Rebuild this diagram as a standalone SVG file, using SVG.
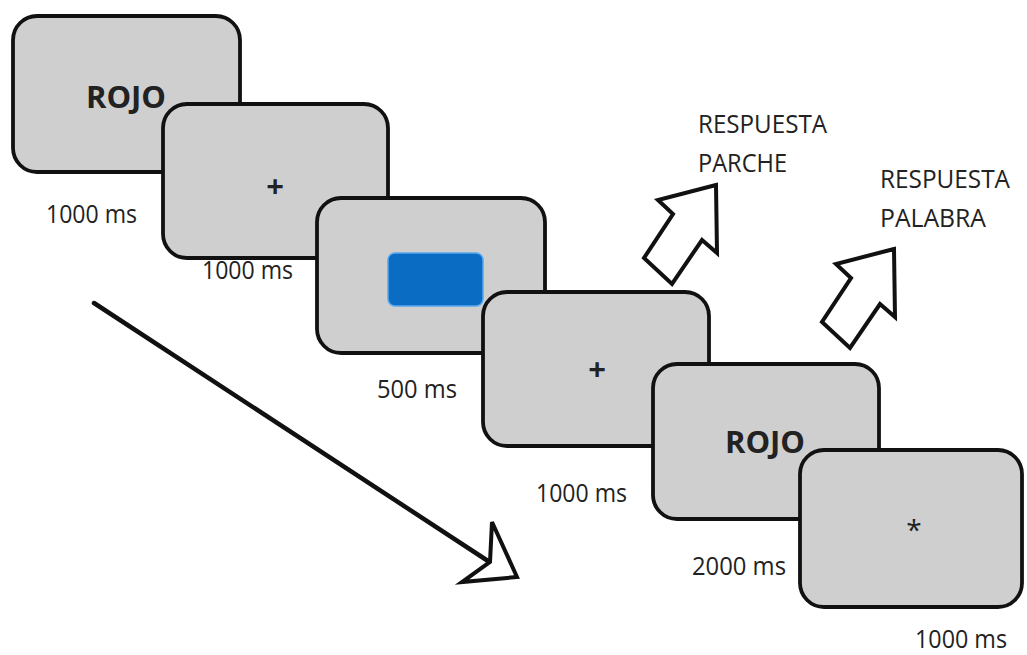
<svg xmlns="http://www.w3.org/2000/svg" width="1027" height="655" viewBox="0 0 1027 655">
  <defs>
    <style>
      .screen { fill: #cfcfcf; stroke: #111; stroke-width: 3.8; }
      .lbl { font-family: "Open Sans", "Liberation Sans", sans-serif; font-size: 25px; fill: #222; }
      .word { font-family: "Open Sans", "Liberation Sans", sans-serif; font-size: 31px; font-weight: bold; fill: #222; text-anchor: middle; }
      .sym { font-family: "Open Sans", "Liberation Sans", sans-serif; font-size: 31px; font-weight: bold; fill: #222; text-anchor: middle; }
      .resp { fill: #fff; stroke: #111; stroke-width: 4; stroke-linejoin: miter; }
      .timeline { fill: none; stroke: #111; stroke-width: 4.5; stroke-linecap: round; }
    </style>
    <!-- hollow block arrow pointing up-right, tip at origin -->
    <path id="respArrow" d="M0,0 L-58,15 L-43,29 L-72,73 L-44,99 L-14,55 L1,68 Z"/>
  </defs>

  <rect width="1027" height="655" fill="#fff"/>

  <g id="screen-word-1">
    <rect class="screen" x="13" y="16" width="227" height="156" rx="24"/>
    <text class="word" x="126" y="108">ROJO</text>
    <text class="lbl" x="46" y="223" textLength="91" lengthAdjust="spacingAndGlyphs">1000 ms</text>
  </g>

  <g id="screen-fixation-1">
    <rect class="screen" x="163" y="104" width="225" height="154" rx="24"/>
    <text class="sym" x="275" y="197">+</text>
    <text class="lbl" x="202" y="279" textLength="91" lengthAdjust="spacingAndGlyphs">1000 ms</text>
  </g>

  <g id="screen-patch">
    <rect class="screen" x="317" y="198" width="228" height="155" rx="24"/>
    <rect x="388" y="253" width="95" height="53" rx="7" fill="#0b6cc4" stroke="#5aa8ee" stroke-width="1.5"/>
    <text class="lbl" x="377" y="398" textLength="80" lengthAdjust="spacingAndGlyphs">500 ms</text>
  </g>

  <g id="screen-fixation-2">
    <rect class="screen" x="483" y="292" width="226" height="154" rx="24"/>
    <text class="sym" x="597" y="380">+</text>
    <text class="lbl" x="536" y="502" textLength="91" lengthAdjust="spacingAndGlyphs">1000 ms</text>
  </g>

  <g id="screen-word-2">
    <rect class="screen" x="653" y="364" width="226" height="155" rx="24"/>
    <text class="word" x="765" y="453">ROJO</text>
    <text class="lbl" x="692" y="575" textLength="94" lengthAdjust="spacingAndGlyphs">2000 ms</text>
  </g>

  <g id="screen-end">
    <rect class="screen" x="800" y="450" width="222" height="157" rx="24"/>
    <text class="sym" x="914" y="540" style="font-weight:normal;font-size:28px">*</text>
    <text class="lbl" x="915" y="648" textLength="92" lengthAdjust="spacingAndGlyphs">1000 ms</text>
  </g>

  <g id="response-patch">
    <use href="#respArrow" class="resp" transform="translate(716,185)"/>
    <text class="lbl" x="698" y="133" textLength="129" lengthAdjust="spacingAndGlyphs">RESPUESTA</text>
    <text class="lbl" x="698" y="172" textLength="89" lengthAdjust="spacingAndGlyphs">PARCHE</text>
  </g>

  <g id="response-word">
    <use href="#respArrow" class="resp" transform="translate(894,249)"/>
    <text class="lbl" x="880" y="188" textLength="130" lengthAdjust="spacingAndGlyphs">RESPUESTA</text>
    <text class="lbl" x="880" y="227" textLength="106" lengthAdjust="spacingAndGlyphs">PALABRA</text>
  </g>

  <g id="connectors">
    <line class="timeline" x1="94" y1="303" x2="488" y2="561"/>
    <path class="resp" d="M517,577 L492,522 L490,562 L462,582 Z" stroke-width="4.5"/>
  </g>
</svg>
